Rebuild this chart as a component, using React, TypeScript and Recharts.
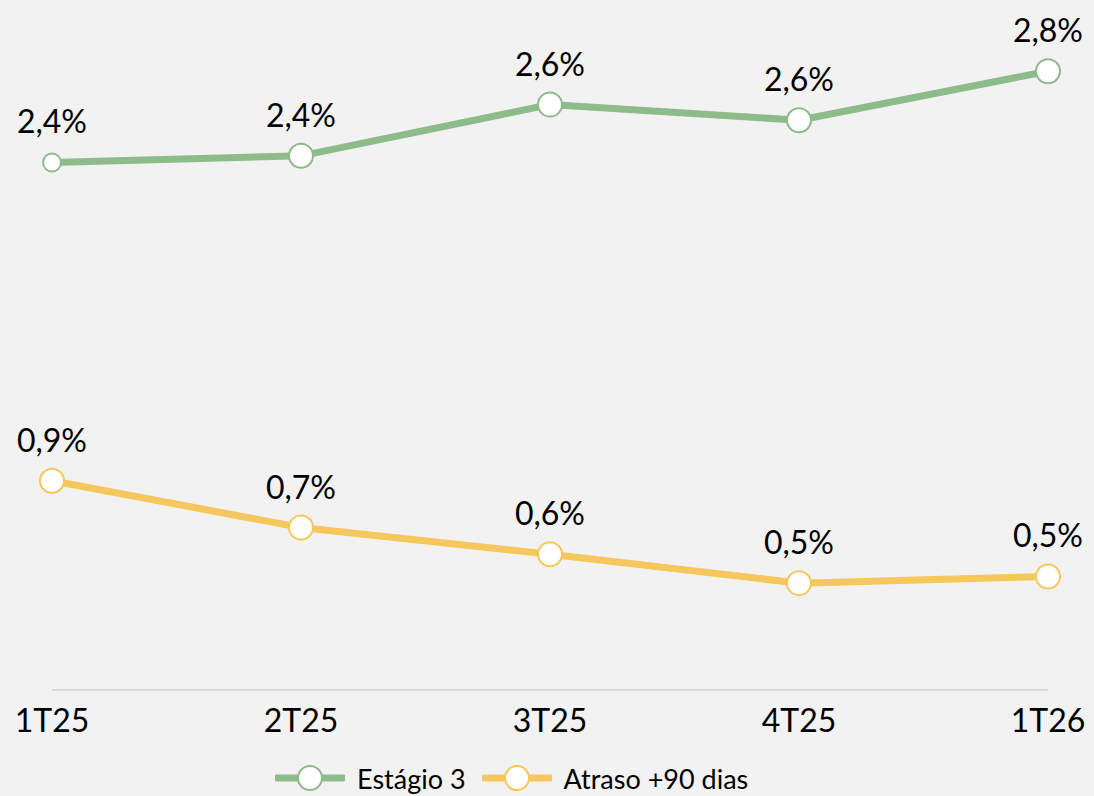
import React from "react";
import { LineChart, Line, XAxis, YAxis, Legend, LabelList } from "recharts";

const categories = ["1T25", "2T25", "3T25", "4T25", "1T26"];
const estagio3 = [2.37, 2.40, 2.63, 2.56, 2.78];
const atraso90 = [0.94, 0.73, 0.61, 0.48, 0.51];

const GREEN = "#8dbb8a";
const YELLOW = "#f5c75c";
const FONT = "Lato, 'Open Sans', sans-serif";

const data = categories.map((c, i) => ({ cat: c, e3: estagio3[i], a90: atraso90[i] }));

const fmt = (v: number) => v.toFixed(1).replace(".", ",") + "%";

const PointLabel = (props: any) => {
  const { x, y, value } = props;
  return (
    <text x={x} y={y - 29} textAnchor="middle" fontSize={32} fontFamily={FONT} fill="#000">
      {fmt(Number(value))}
    </text>
  );
};

const GreenDot = (props: any) => {
  const { cx, cy, index } = props;
  return <circle cx={cx} cy={cy} r={index === 0 ? 9 : 12} fill="#fff" stroke={GREEN} strokeWidth={2} />;
};

const LegendContent = () => {
  const items = [
    { name: "Estágio 3", color: GREEN },
    { name: "Atraso +90 dias", color: YELLOW },
  ];
  return (
    <div style={{ display: "flex", alignItems: "center", paddingLeft: 275, height: 36, fontFamily: FONT, fontSize: 27, color: "#000" }}>
      {items.map((it) => (
        <div key={it.name} style={{ display: "flex", alignItems: "center", marginRight: 16 }}>
          <svg width={70} height={30} style={{ marginRight: 12 }}>
            <line x1={2} y1={15} x2={68} y2={15} stroke={it.color} strokeWidth={7} strokeLinecap="round" />
            <circle cx={35} cy={15} r={12} fill="#fff" stroke={it.color} strokeWidth={2} />
          </svg>
          <span>{it.name}</span>
        </div>
      ))}
    </div>
  );
};

export default function App() {
  return (
    <div style={{ position: "absolute", left: 0, top: 0, width: 1094, height: 796, background: "#f2f2f2" }}>
      <LineChart width={1094} height={796} data={data} margin={{ top: 0, right: 46, bottom: 0, left: 52 }}>
        <XAxis
          dataKey="cat"
          height={70}
          axisLine={{ stroke: "#d9d9d9", strokeWidth: 2 }}
          tickLine={false}
          tickSize={0}
          tickMargin={19}
          interval={0}
          tick={{ fontSize: 32, fontFamily: FONT, fill: "#000" }}
        />
        <YAxis hide domain={[0, 3.1]} />
        <Legend verticalAlign="bottom" height={36} content={<LegendContent />} wrapperStyle={{ left: 0, width: 1094 }} />
        <Line
          dataKey="e3"
          name="Estágio 3"
          stroke={GREEN}
          strokeWidth={7}
          isAnimationActive={false}
          dot={<GreenDot />}
        >
          <LabelList dataKey="e3" content={<PointLabel />} />
        </Line>
        <Line
          dataKey="a90"
          name="Atraso +90 dias"
          stroke={YELLOW}
          strokeWidth={7}
          isAnimationActive={false}
          dot={{ r: 12, fill: "#fff", stroke: YELLOW, strokeWidth: 2 }}
        >
          <LabelList dataKey="a90" content={<PointLabel />} />
        </Line>
      </LineChart>
    </div>
  );
}
